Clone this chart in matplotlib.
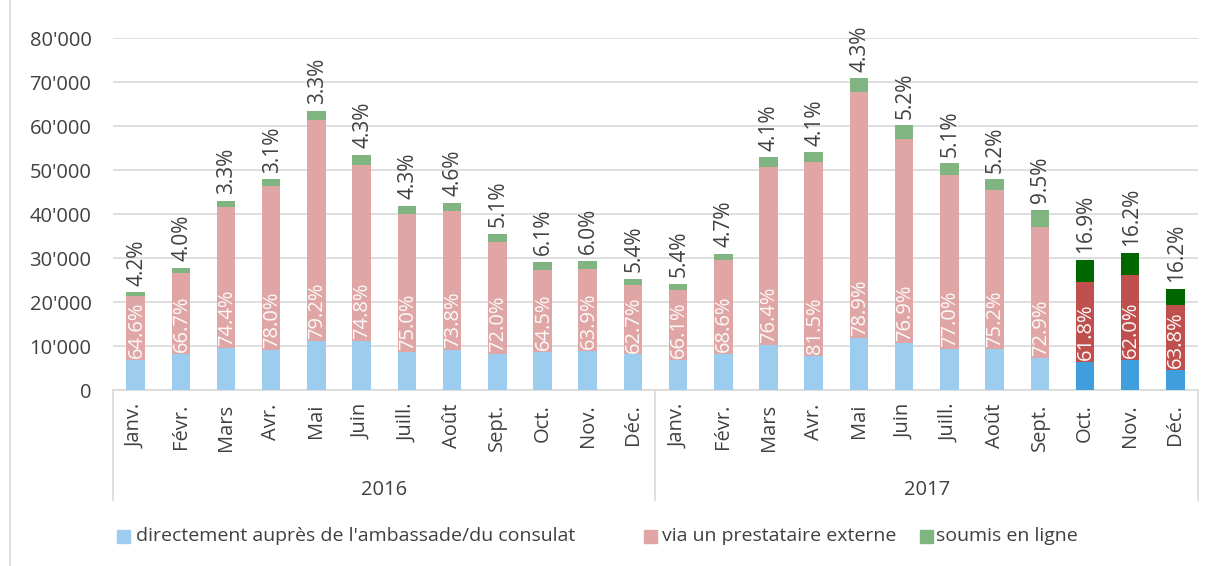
import numpy as np
import matplotlib.pyplot as plt
import matplotlib.transforms as mtransforms
from matplotlib.patches import Rectangle
from matplotlib.lines import Line2D

plt.rcParams['font.family'] = ['Open Sans', 'DejaVu Sans']

months = ['Janv.', 'Févr.', 'Mars', 'Avr.', 'Mai', 'Juin', 'Juill.', 'Août',
          'Sept.', 'Oct.', 'Nov.', 'Déc.']
years = ['2016', '2017']
series = ["directement auprès de l'ambassade/du consulat",
          'via un prestataire externe', 'soumis en ligne']

# demandes par canal (nombre)
direct = [6930, 8150, 9590, 9060, 11110, 11160, 8650, 9200, 8130, 8550, 8820, 8070,
          6870, 8250, 10310, 7780, 11900, 10780, 9210, 9390, 7210, 6310, 6810, 4600]
externe = [14340, 18540, 31990, 37360, 50290, 39940, 31350, 31440, 25560, 18770, 18720, 15860,
           15930, 21200, 40420, 44010, 55860, 46290, 39660, 36020, 29890, 18290, 19340, 14670]
enligne = [930, 1110, 1420, 1480, 2100, 2300, 1800, 1960, 1810, 1780, 1760, 1370,
           1300, 1450, 2170, 2210, 3040, 3130, 2630, 2490, 3900, 5000, 5050, 3730]

pct_externe = ['64.6%', '66.7%', '74.4%', '78.0%', '79.2%', '74.8%', '75.0%', '73.8%',
               '72.0%', '64.5%', '63.9%', '62.7%',
               '66.1%', '68.6%', '76.4%', '81.5%', '78.9%', '76.9%', '77.0%', '75.2%',
               '72.9%', '61.8%', '62.0%', '63.8%']
pct_enligne = ['4.2%', '4.0%', '3.3%', '3.1%', '3.3%', '4.3%', '4.3%', '4.6%',
               '5.1%', '6.1%', '6.0%', '5.4%',
               '5.4%', '4.7%', '4.1%', '4.1%', '4.3%', '5.2%', '5.1%', '5.2%',
               '9.5%', '16.9%', '16.2%', '16.2%']

W, H = 1212, 566
fig = plt.figure(figsize=(W/100, H/100), dpi=100)
ax = fig.add_axes([113/W, 1-390/H, (1198-113)/W, (390-38)/H])

x = np.arange(len(direct))
n_dark = 3  # derniers mois en couleurs foncees
light = ['#9DCDEE', '#E0A6A5', '#80B480']
c_blue = [light[0]]*(len(x)-n_dark) + ['#3E9FDC']*n_dark
c_red = [light[1]]*(len(x)-n_dark) + ['#C0504D']*n_dark
c_green = [light[2]]*(len(x)-n_dark) + ['#006600']*n_dark

txt = '#404040'
fs = 14.5
bw = 0.41
d = np.array(direct); e = np.array(externe); g = np.array(enligne)
ax.bar(x, d, bw, color=c_blue, zorder=3)
ax.bar(x, e, bw, bottom=d, color=c_red, zorder=3)
ax.bar(x, g, bw, bottom=d+e, color=c_green, zorder=3)

for i in range(len(x)):
    ax.text(x[i]+0.02, d[i]+450, pct_externe[i], rotation=90, ha='center', va='bottom',
            color='#FAFAFA', fontsize=14.5, zorder=4)
    ax.text(x[i]+0.02, d[i]+e[i]+g[i]+1500, pct_enligne[i], rotation=90, ha='center',
            va='bottom', color=txt, fontsize=15, zorder=4)

ax.set_xlim(-0.5, len(x)-0.5)
ax.set_ylim(0, 80000)
ax.set_yticks(np.arange(0, 80001, 10000))
ax.set_yticklabels(['0'] + ["%d'000" % v for v in range(10, 81, 10)])
ax.set_xticks(x)
ax.set_xticklabels(months*2, rotation=90, va='top')
ax.tick_params(axis='y', length=0, pad=15.5, labelsize=fs, labelcolor=txt)
ax.tick_params(axis='x', length=0, pad=10, labelsize=fs, labelcolor=txt)
ax.grid(axis='y', color='#D9D9D9', linewidth=1.2, zorder=0)
for s in ['top', 'right', 'left']:
    ax.spines[s].set_visible(False)
ax.spines['bottom'].set_color('#D9D9D9')
ax.spines['bottom'].set_linewidth(1.2)

# separateurs et annees
trans = mtransforms.blended_transform_factory(ax.transData, fig.transFigure)
for xs in [-0.5, 11.5, len(x)-0.5]:
    ax.add_line(Line2D([xs, xs], [1-390/H, 1-500/H], transform=trans, color='#D9D9D9',
                       linewidth=1.2, clip_on=False))
ax.text(5.5, 1-490/H, years[0], transform=trans, ha='center', va='center',
        fontsize=fs, color=txt)
ax.text(17.5, 1-490/H, years[1], transform=trans, ha='center', va='center',
        fontsize=fs, color=txt)

fig.add_artist(Line2D([10/W, 10/W], [0, 1], color='#D9D9D9', linewidth=1.2))

# legende
sq_x = [117, 644, 920]
tx_x = [136, 662, 936]
ly = 1-536/H
for k in range(3):
    fig.add_artist(Rectangle((sq_x[k]/W, ly-6.5/H), 13/W, 13/H, color=light[k],
                             transform=fig.transFigure))
    fig.text(tx_x[k]/W, ly, series[k], ha='left', va='center', fontsize=14, color=txt)

fig.savefig('out.png', dpi=100)
